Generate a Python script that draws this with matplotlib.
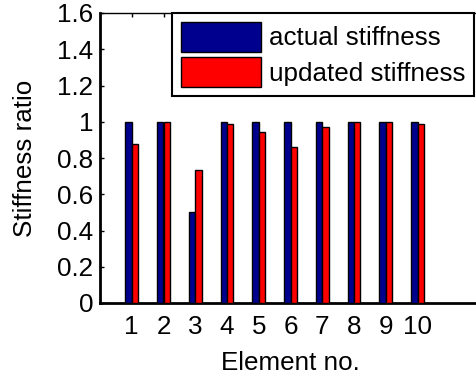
import matplotlib
matplotlib.use("Agg")
import matplotlib.pyplot as plt
import numpy as np

elements = [1, 2, 3, 4, 5, 6, 7, 8, 9, 10]
actual = [1.0, 1.0, 0.5, 1.0, 1.0, 1.0, 1.0, 1.0, 1.0, 1.0]
updated = [0.875, 1.0, 0.735, 0.99, 0.945, 0.86, 0.97, 1.0, 1.0, 0.985]
yticks = [0, 0.2, 0.4, 0.6, 0.8, 1, 1.2, 1.4, 1.6]
ytick_labels = ["0", "0.2", "0.4", "0.6", "0.8", "1", "1.2", "1.4", "1.6"]

plt.rcParams.update({
    "font.family": ["Liberation Sans", "DejaVu Sans"],
    "font.size": 18.7,
})

W, H = 477, 376
fig = plt.figure(figsize=(W / 100, H / 100), dpi=100)
left, right, top, bottom = 100, 481, 13, 303
ax = fig.add_axes([left / W, 1 - bottom / H, (right - left) / W, (bottom - top) / H])

x = np.array(elements)
w = 0.2
ax.bar(x - w / 2, actual, w, color="#00008F", edgecolor="black", linewidth=1.0,
       label="actual stiffness", zorder=3)
ax.bar(x + w / 2, updated, w, color="#FF0000", edgecolor="black", linewidth=1.0,
       label="updated stiffness", zorder=3)

ax.set_xlim(0, 12)
ax.set_ylim(0, 1.6)
ax.set_xticks(elements)
ax.set_yticks(yticks)
ax.set_yticklabels(ytick_labels)
ax.tick_params(direction="in", length=3, width=1, top=True, right=True)
ax.tick_params(axis="y", pad=5)
ax.tick_params(axis="x", pad=9)
for s in ["left", "bottom"]:
    ax.spines[s].set_linewidth(2)
ax.spines["top"].set_linewidth(1)
ax.spines["right"].set_linewidth(1)

ax.set_xlabel("Element no.", labelpad=8)
ax.set_ylabel("Stiffness ratio", labelpad=14)

leg = ax.legend(loc="upper left", bbox_to_anchor=(172 / W, 1 - 13 / H),
                bbox_transform=fig.transFigure, fancybox=False, framealpha=1,
                edgecolor="black", handlelength=3.1, handleheight=1.4,
                handletextpad=0.31, labelspacing=0.22, borderpad=0.33,
                borderaxespad=0)
leg.get_frame().set_linewidth(1.5)
leg.set_zorder(5)

fig.savefig("out.png", dpi=100)
